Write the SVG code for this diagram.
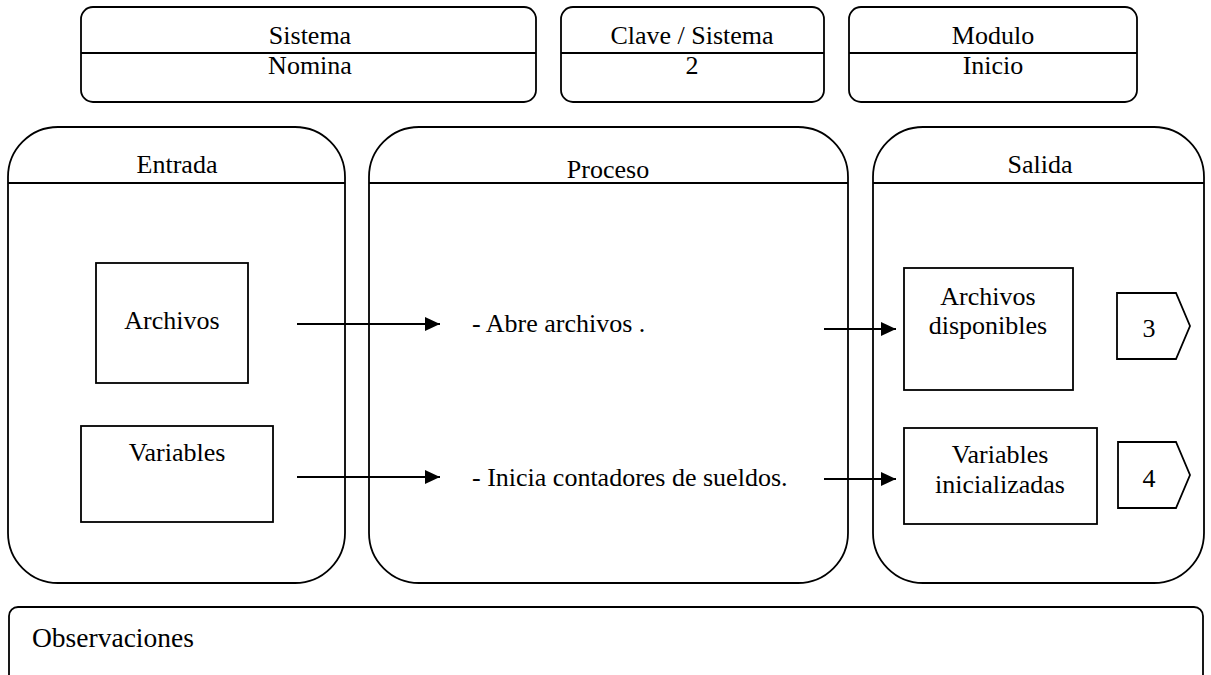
<svg xmlns="http://www.w3.org/2000/svg" width="1211" height="675" viewBox="0 0 1211 675">
<defs>
<marker id="ah" markerWidth="15" markerHeight="14" refX="15" refY="7" orient="auto" markerUnits="userSpaceOnUse">
<path d="M0,0 L15,7 L0,14 Z" fill="#000"/>
</marker>
<style>
.b{fill:#fff;stroke:#000;stroke-width:1.8}
.l{stroke:#000;stroke-width:1.8;fill:none}
.t{font-family:"Liberation Serif","Times New Roman",Times,serif;font-size:26px;fill:#000}
.c{text-anchor:middle}
.a{stroke:#000;stroke-width:1.8;fill:none;marker-end:url(#ah)}
</style>
</defs>
<rect width="1211" height="675" fill="#fff"/>
<g id="sistema">
<rect class="b" x="81" y="7" width="455" height="95" rx="12"/>
<line class="l" x1="81" y1="53" x2="536" y2="53"/>
<text class="t c" x="310" y="44">Sistema</text>
<text class="t c" x="310" y="74">Nomina</text>
</g>
<g id="clave">
<rect class="b" x="561" y="7" width="263" height="95" rx="12"/>
<line class="l" x1="561" y1="53" x2="824" y2="53"/>
<text class="t c" x="692" y="44">Clave / Sistema</text>
<text class="t c" x="692" y="74">2</text>
</g>
<g id="modulo">
<rect class="b" x="849" y="7" width="288" height="95" rx="12"/>
<line class="l" x1="849" y1="53" x2="1137" y2="53"/>
<text class="t c" x="993" y="44">Modulo</text>
<text class="t c" x="993" y="74">Inicio</text>
</g>
<g id="entrada">
<rect class="b" x="8" y="127" width="337" height="456" rx="50"/>
<line class="l" x1="8" y1="183" x2="345" y2="183"/>
<text class="t c" x="177" y="173">Entrada</text>
</g>
<g id="proceso">
<rect class="b" x="369" y="127" width="479" height="456" rx="50"/>
<line class="l" x1="369" y1="183" x2="848" y2="183"/>
<text class="t c" x="608" y="178">Proceso</text>
<text class="t" x="472" y="332">- Abre archivos .</text>
<text class="t" x="472" y="486">- Inicia contadores de sueldos.</text>
</g>
<g id="salida">
<rect class="b" x="873" y="127" width="331" height="456" rx="50"/>
<line class="l" x1="873" y1="183" x2="1204" y2="183"/>
<text class="t c" x="1040" y="173">Salida</text>
</g>
<g id="archivos">
<rect class="b" x="96" y="263" width="152" height="120"/>
<text class="t c" x="172" y="329">Archivos</text>
</g>
<g id="variables">
<rect class="b" x="81" y="426" width="192" height="96"/>
<text class="t c" x="177" y="461">Variables</text>
</g>
<g id="archivos-disponibles">
<rect class="b" x="904" y="268" width="169" height="122"/>
<text class="t c" x="988" y="305">Archivos</text>
<text class="t c" x="988" y="334">disponibles</text>
</g>
<g id="variables-inicializadas">
<rect class="b" x="904" y="428" width="193" height="96"/>
<text class="t c" x="1000" y="463">Variables</text>
<text class="t c" x="1000" y="493">inicializadas</text>
</g>
<g id="conector-3">
<path class="b" d="M1117,293 L1176,293 L1190,326 L1176,359 L1117,359 Z"/>
<text class="t c" x="1149" y="337">3</text>
</g>
<g id="conector-4">
<path class="b" d="M1118,442 L1176,442 L1190,475 L1176,508 L1118,508 Z"/>
<text class="t c" x="1149" y="487">4</text>
</g>
<g id="observaciones">
<rect class="b" x="9" y="607" width="1194" height="90" rx="9"/>
<text class="t" x="32" y="647" style="font-size:27.5px">Observaciones</text>
</g>
<g id="connectors">
<line class="a" x1="297" y1="324" x2="440" y2="324"/>
<line class="a" x1="297" y1="477" x2="440" y2="477"/>
<line class="a" x1="824" y1="329" x2="896" y2="329"/>
<line class="a" x1="824" y1="479" x2="896" y2="479"/>
</g>
</svg>
